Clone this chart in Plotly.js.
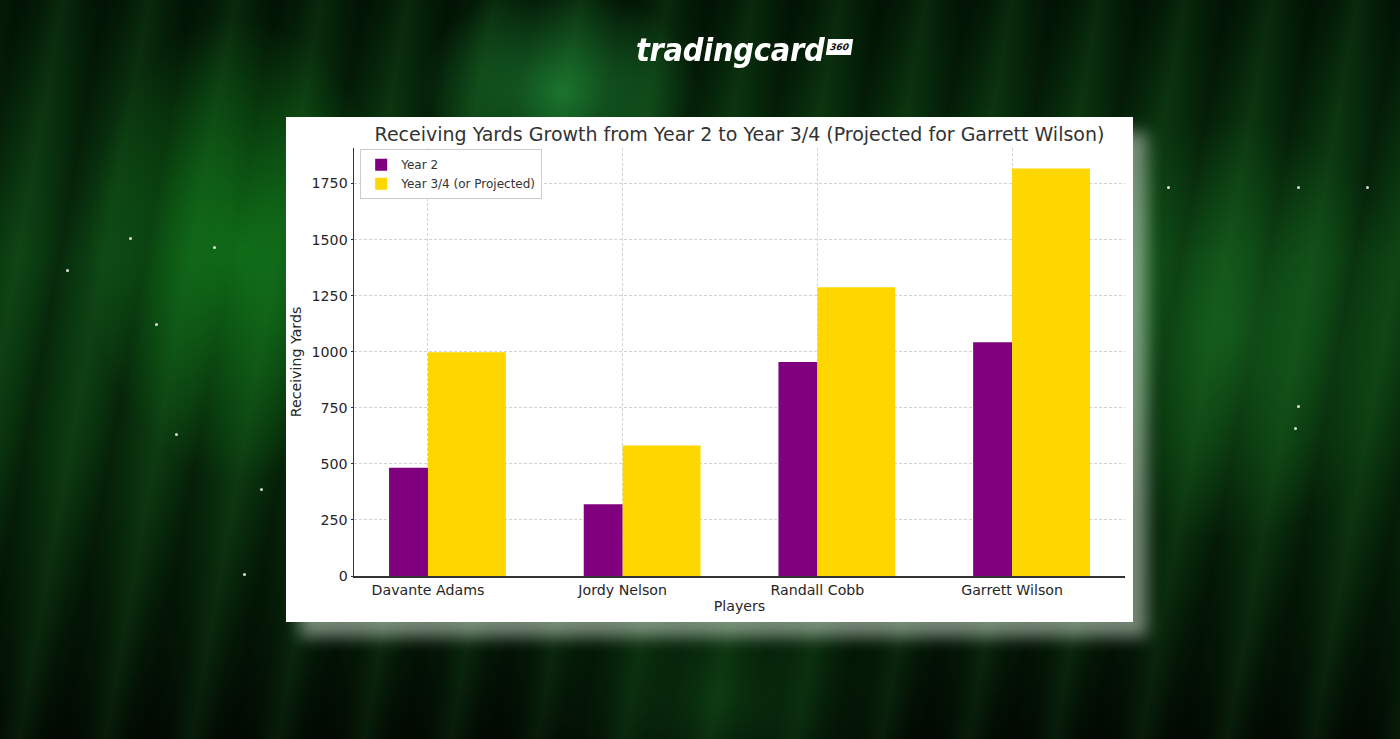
<!DOCTYPE html>
<html>
<head>
<meta charset="utf-8">
<script src="https://cdn.plot.ly/plotly-3.0.1.min.js"></script>
<style>
  html, body { margin:0; padding:0; width:1400px; height:739px; overflow:hidden; }
  body {
    background:
      radial-gradient(ellipse 200px 150px at 560px 90px, rgba(40,170,70,0.55), rgba(0,0,0,0) 70%),
      radial-gradient(ellipse 220px 330px at 240px 250px, rgba(20,150,30,0.6), rgba(0,0,0,0) 70%),
      radial-gradient(ellipse 260px 300px at 1230px 330px, rgba(30,130,40,0.45), rgba(0,0,0,0) 70%),
      radial-gradient(ellipse 260px 200px at 720px 700px, rgba(20,100,30,0.4), rgba(0,0,0,0) 70%),
      repeating-linear-gradient(100deg, rgba(0,0,0,0.0) 0px, rgba(0,0,0,0.28) 18px, rgba(0,0,0,0) 40px, rgba(60,170,60,0.10) 62px, rgba(0,0,0,0) 85px),
      linear-gradient(180deg, #031a06 0%, #0a3a10 35%, #08300c 60%, #020c03 100%);
    font-family: "DejaVu Sans", sans-serif;
  }
  #shadow {
    position:absolute; left:300px; top:132px; width:847px; height:505px;
    background: rgba(210,225,210,0.55); filter: blur(8px);
  }
  #card {
    position:absolute; left:286px; top:117px; width:847px; height:505px;
    background:#ffffff;
  }
  #logo {
    position:absolute; left:636px; top:33px; color:#ffffff;
    font-family:"DejaVu Sans", sans-serif; font-weight:bold; font-style:italic;
    font-size:29px; letter-spacing:-0.3px; transform:scaleY(1.08);
  }
  #badge {
    position:absolute; left:827px; top:39px; width:25px; height:16px; background:#ffffff;
    color:#111; font-size:9px; font-weight:bold; font-style:italic; text-align:center; line-height:16px;
    font-family:"DejaVu Sans", sans-serif; transform:skewX(-8deg);
  }
  .star { position:absolute; width:3px; height:3px; border-radius:50%; background:rgba(255,255,255,0.85); }
  #chart { position:absolute; left:286px; top:117px; width:847px; height:505px; }
</style>
</head>
<body>
<div id="shadow"></div>
<div id="card"></div>
<div id="logo">tradingcard</div>
<div id="badge">360</div>
<div class="star" style="left:213px;top:246px"></div>
<div class="star" style="left:155px;top:323px"></div>
<div class="star" style="left:175px;top:433px"></div>
<div class="star" style="left:243px;top:573px"></div>
<div class="star" style="left:66px;top:269px"></div>
<div class="star" style="left:129px;top:237px"></div>
<div class="star" style="left:1297px;top:186px"></div>
<div class="star" style="left:1297px;top:405px"></div>
<div class="star" style="left:1167px;top:186px"></div>
<div class="star" style="left:1294px;top:427px"></div>
<div class="star" style="left:1366px;top:186px"></div>
<div class="star" style="left:260px;top:488px"></div>
<div id="chart"></div>
<script>
const players = ["Davante Adams", "Jordy Nelson", "Randall Cobb", "Garrett Wilson"];
const year2 = [483, 320, 954, 1042];
const year34 = [997, 582, 1287, 1817];
const yTicks = [0, 250, 500, 750, 1000, 1250, 1500, 1750];

const idx = players.map((p, i) => i);

const traces = [
  {
    type: "bar", name: "Year 2", x: idx, y: year2,
    width: 0.2, offset: -0.2,
    marker: { color: "#800080", line: { width: 0 } },
    hoverinfo: "skip"
  },
  {
    type: "bar", name: "Year 3/4 (or Projected)", x: idx, y: year34,
    width: 0.4, offset: 0,
    marker: { color: "#FFD700", line: { width: 0 } },
    hoverinfo: "skip"
  }
];

const layout = {
  width: 847, height: 505,
  paper_bgcolor: "rgba(0,0,0,0)",
  plot_bgcolor: "#ffffff",
  margin: { l: 68, r: 8, t: 31, b: 46 },
  barmode: "overlay",
  font: { family: "DejaVu Sans, sans-serif", color: "#262626", size: 14 },
  title: {
    text: "Receiving Yards Growth from Year 2 to Year 3/4 (Projected for Garrett Wilson)",
    font: { size: 19, color: "#333333" },
    x: 0.5, xref: "paper", xanchor: "center",
    y: 0.966, yref: "container", yanchor: "middle"
  },
  xaxis: {
    range: [-0.38, 3.58],
    tickmode: "array", tickvals: idx, ticktext: players,
    showgrid: true, gridcolor: "#d3d3d3", griddash: "3px,2px", gridwidth: 1,
    zeroline: false, showline: true, linecolor: "#333333", linewidth: 1.5,
    ticks: "",
    tickfont: { size: 14.2, color: "#262626" },
    title: { text: "Players", font: { size: 14.2, color: "#262626" }, standoff: 4 }
  },
  yaxis: {
    range: [0, 1908],
    tickmode: "array", tickvals: yTicks,
    showgrid: true, gridcolor: "#d3d3d3", griddash: "3px,2px", gridwidth: 1,
    zeroline: false, showline: true, linecolor: "#333333", linewidth: 1.5,
    ticks: "outside", ticklen: 2, tickcolor: "#333333",
    tickfont: { size: 14.2, color: "#262626" },
    title: { text: "Receiving Yards", font: { size: 14.2, color: "#262626" }, standoff: 6 }
  },
  showlegend: true,
  legend: {
    x: 0.008, y: 0.997, xanchor: "left", yanchor: "top",
    bgcolor: "rgba(255,255,255,0.9)", bordercolor: "#cccccc", borderwidth: 1,
    font: { size: 12, color: "#333333" },
    traceorder: "normal", itemwidth: 30, tracegroupgap: 0
  }
};

Plotly.newPlot("chart", traces, layout, { displayModeBar: false, staticPlot: true });
</script>
</body>
</html>
